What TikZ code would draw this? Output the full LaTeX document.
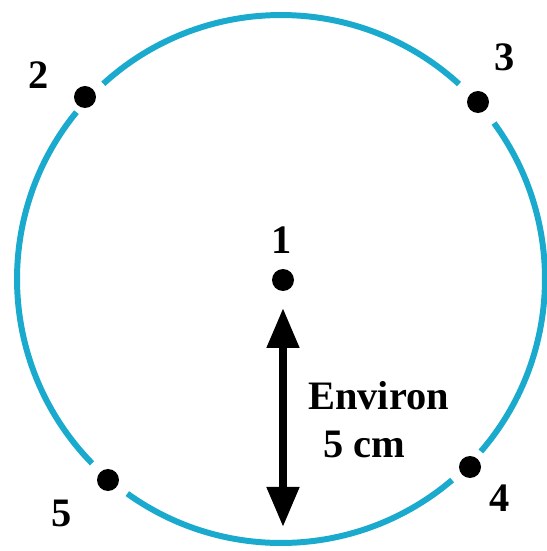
\documentclass[tikz,border=0pt]{standalone}
\usepackage{fontspec}
\setmainfont{Liberation Serif}
\usepackage{tikz}
\usetikzlibrary{arrows.meta,positioning}
\definecolor{ringcyan}{RGB}{25,170,205}

\begin{document}
\begin{tikzpicture}[
    dot/.style={circle, fill=black, inner sep=0pt, minimum size=0.44cm},
    numlabel/.style={font=\fontsize{23}{27}\selectfont\bfseries},
    dimarrow/.style={line width=4.5pt, {Triangle[length=0.8cm,width=0.62cm]}-{Triangle[length=0.8cm,width=0.62cm]}}
  ]
  \useasboundingbox (0,0) rectangle (10.94,11.02);
  % ring, broken where the outer points sit
  \foreach \aa/\ab in {-40.8/36.2, 47.6/132.3, 140.8/224.3, 234.4/310.4}{
    \draw[ringcyan, line width=3.4pt] ([shift={(\aa:5.28)}]5.62,5.44) arc[start angle=\aa, end angle=\ab, radius=5.28];
  }
  % points and their numbers
  \foreach \id/\px/\py/\lx/\ly in {1/5.66/5.42/5.64/6.22, 2/1.70/9.08/0.78/9.52, 3/9.56/8.98/10.10/9.88, 4/9.40/1.68/10.00/1.06, 5/2.16/1.42/1.24/0.76}{
    \node[dot] (p\id) at (\px,\py) {};
    \node[numlabel] (n\id) at (\lx,\ly) {\id};
  }
  % radius arrow
  \coordinate (atop) at (5.66,4.86);
  \coordinate (abot) at (5.66,0.48);
  \draw[dimarrow] (atop) -- (abot);
  \node[numlabel, anchor=base west, inner sep=0pt] (env) at (6.16,2.82) {Environ};
  \node[numlabel, anchor=base west, inner sep=0pt] (dist) at (6.46,1.86) {5 cm};
\end{tikzpicture}
\end{document}
